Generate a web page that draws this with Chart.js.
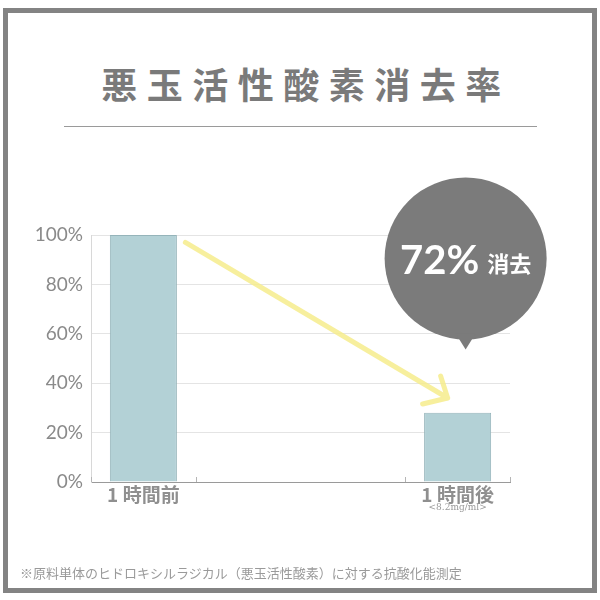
<!DOCTYPE html>
<html lang="ja">
<head>
<meta charset="utf-8">
<title>悪玉活性酸素消去率</title>
<script src="https://cdn.jsdelivr.net/npm/chart.js@4.4.1/dist/chart.umd.min.js"></script>
<style>
    html, body { margin: 0; padding: 0; background: #fff; }
    #wrap { position: relative; width: 600px; height: 600px; overflow: hidden; }
    #frame {
        position: absolute; left: 3px; top: 8px; width: 584px; height: 575px;
        border: 5px solid #838383;
    }
    #title {
        position: absolute; left: 0; top: 58px; width: 612px; text-align: center;
        font-family: "Noto Sans CJK JP", sans-serif; font-weight: 700;
        font-size: 36px; letter-spacing: 9.5px; color: #7a7a7a; line-height: 50px;
    }
    #rule { position: absolute; left: 64px; top: 126px; width: 473px; height: 0; border-top: 1.5px solid #9a9a9a; }
    #note {
        position: absolute; left: 20px; top: 563px;
        font-family: "Noto Sans CJK JP", sans-serif; font-size: 13px; color: #9a9a9a;
    }
    canvas { position: absolute; left: 0; top: 0; }
</style>
</head>
<body>
<div id="wrap">
    <div id="frame"></div>
    <div id="title">悪玉活性酸素消去率</div>
    <div id="rule"></div>
    <canvas id="chart" width="600" height="600"></canvas>
    <div id="note">※原料単体のヒドロキシルラジカル（悪玉活性酸素）に対する抗酸化能測定</div>
</div>
<script>
// --- DADOS ---
const categories = ['1 時間前', '', '', '1 時間後'];
const values = [100, null, null, 28];
const yTicks = [0, 20, 40, 60, 80, 100];
const subLabel = '<8.2mg/ml>';
const bubbleValue = '72%';
const bubbleUnit = '消去';

const gray = '#8a8a8a';

// marcas pequenas para cima no eixo x (bordas das categorias, sem a do meio)
const axisTicks = {
    id: 'axisTicks',
    afterDraw(chart) {
        const { ctx, scales: { x, y } } = chart;
        const half = (x.getPixelForValue(1) - x.getPixelForValue(0)) / 2;
        const edges = [0, 1, 3, 4].map(i => x.getPixelForValue(0) - half + i * half * 2);
        ctx.save();
        ctx.strokeStyle = '#b5b5b5';
        ctx.lineWidth = 1;
        edges.forEach(px => {
            ctx.beginPath();
            ctx.moveTo(Math.round(px) + 0.5, y.bottom);
            ctx.lineTo(Math.round(px) + 0.5, y.bottom - 5);
            ctx.stroke();
        });
        // rótulo pequeno embaixo da segunda categoria
        ctx.fillStyle = '#9a9a9a';
        ctx.font = '9px "DejaVu Serif", serif';
        ctx.textAlign = 'center';
        ctx.textBaseline = 'middle';
        ctx.fillText(subLabel, x.getPixelForValue(3), y.bottom + 26);
        ctx.restore();
    }
};

// seta amarela + balão cinza
const callout = {
    id: 'callout',
    afterDatasetsDraw(chart) {
        const { ctx, scales: { x, y } } = chart;
        const x0 = x.getPixelForValue(0) + 42;
        const y0 = y.getPixelForValue(97);
        const x1 = x.getPixelForValue(3) - 10;
        const y1 = y.getPixelForValue(34);

        ctx.save();
        ctx.strokeStyle = 'rgba(246, 236, 140, 0.85)';
        ctx.lineWidth = 5;
        ctx.lineCap = 'round';
        ctx.lineJoin = 'round';
        ctx.beginPath();
        ctx.moveTo(x0, y0);
        ctx.lineTo(x1, y1);
        ctx.moveTo(x1 - 7, y1 - 22);
        ctx.lineTo(x1, y1);
        ctx.lineTo(x1 - 25, y1 + 6);
        ctx.stroke();

        // balão
        const cx = x.getPixelForValue(3) + 8;
        const cy = y.getPixelForValue(90.5);
        const r = 81;
        ctx.fillStyle = '#7b7b7b';
        ctx.beginPath();
        ctx.arc(cx, cy, r, 0, Math.PI * 2);
        ctx.fill();
        ctx.beginPath();
        ctx.moveTo(cx - 10, cy + r - 6);
        ctx.lineTo(cx, cy + r + 10);
        ctx.lineTo(cx + 10, cy + r - 6);
        ctx.closePath();
        ctx.fill();

        ctx.fillStyle = '#fff';
        ctx.textBaseline = 'alphabetic';
        ctx.textAlign = 'left';
        const f1 = '700 40px Lato, "Noto Sans", sans-serif';
        const f2 = '700 22px "Noto Sans CJK JP", sans-serif';
        ctx.font = f1;
        const w1 = ctx.measureText(bubbleValue).width;
        ctx.font = f2;
        const w2 = ctx.measureText(bubbleUnit).width;
        const gap = 8;
        const start = cx - (w1 + gap + w2) / 2;
        ctx.font = f1;
        ctx.fillText(bubbleValue, start, cy + 16);
        ctx.font = f2;
        ctx.fillText(bubbleUnit, start + w1 + gap, cy + 14);
        ctx.restore();
    }
};

new Chart(document.getElementById('chart'), {
    type: 'bar',
    data: {
        labels: categories,
        datasets: [{
            data: values,
            backgroundColor: '#b3d1d6',
            borderColor: '#95b4ba',
            borderWidth: 1,
            barPercentage: 0.64,
            categoryPercentage: 1,
        }]
    },
    options: {
        responsive: false,
        animation: false,
        layout: { padding: { left: 0, right: 90, top: 235, bottom: 0 } },
        plugins: { legend: { display: false }, tooltip: { enabled: false } },
        scales: {
            x: {
                offset: true,
                grid: { display: false, drawTicks: false },
                border: { color: '#9a9a9a', width: 1 },
                ticks: {
                    color: '#8f8f8f',
                    padding: 1,
                    maxRotation: 0,
                    autoSkip: false,
                    font: { family: '"Noto Sans CJK JP", sans-serif', size: 19, weight: '700' },
                },
                afterFit(scale) { scale.height = 118; }
            },
            y: {
                min: 0,
                max: 100,
                afterBuildTicks(scale) { scale.ticks = yTicks.map(v => ({ value: v })); },
                grid: { color: '#e4e4e4', drawTicks: false },
                border: { color: '#d8d8d8' },
                ticks: {
                    color: gray,
                    padding: 8,
                    font: { family: 'Lato, "Noto Sans", sans-serif', size: 19 },
                    callback: v => v + '%',
                },
                afterFit(scale) { scale.width = 91; }
            }
        }
    },
    plugins: [axisTicks, callout]
});
</script>
</body>
</html>
